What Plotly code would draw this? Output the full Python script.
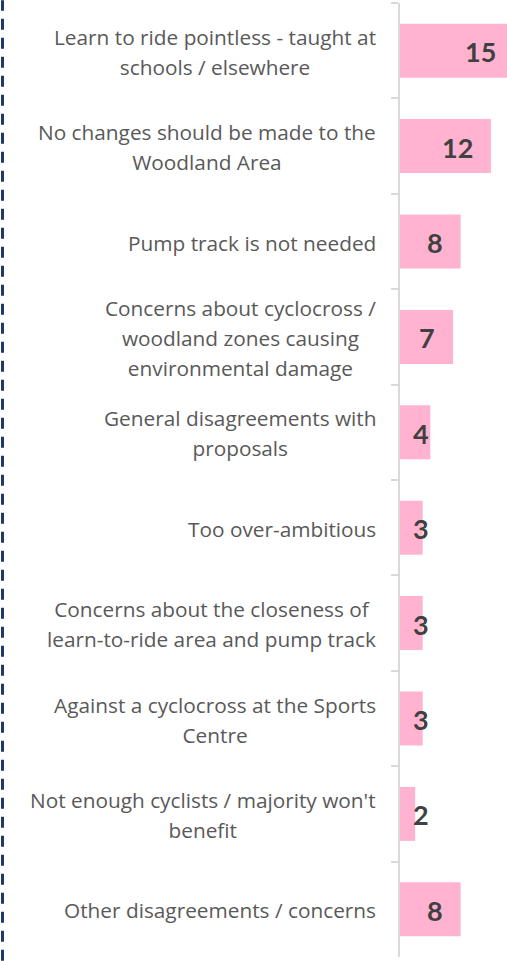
import plotly.graph_objects as go

categories = [
    "Learn to ride pointless - taught at<br>schools / elsewhere",
    "No changes should be made to the<br>Woodland Area",
    "Pump track is not needed",
    "Concerns about cyclocross /<br>woodland zones causing<br>environmental damage",
    "General disagreements with<br>proposals",
    "Too over-ambitious",
    "Concerns about the closeness of<br>learn-to-ride area and pump track",
    "Against a cyclocross at the Sports<br>Centre",
    "Not enough cyclists / majority won't<br>benefit",
    "Other disagreements / concerns",
]
values = [15, 12, 8, 7, 4, 3, 3, 3, 2, 8]

XMAX = 14.12
LABEL_MIN = 6.2

fig = go.Figure()
fig.add_trace(go.Bar(
    y=categories, x=values, orientation="h",
    marker=dict(color="#FFB3D0", line=dict(width=0)),
    hoverinfo="skip",
))

annotations = []
for cat, v in zip(categories, values):
    lines = cat.split("<br>")
    txt = "<br>".join('<span style="font-size:20.8px">%s</span>' % ln for ln in lines)
    annotations.append(dict(
        x=0, xref="paper", y=cat, yref="y", xanchor="right", yanchor="middle",
        xshift=-22, yshift=-1, text=txt, showarrow=False, align="center",
        font=dict(family="Open Sans, sans-serif", size=23, color="#595959"),
    ))
    annotations.append(dict(
        x=max(v, LABEL_MIN) / XMAX, xref="paper", y=cat, yref="y",
        xanchor="right", yanchor="middle", xshift=-16, yshift=-1,
        text="<b>%d</b>" % v, showarrow=False,
        font=dict(family="Lato, sans-serif", size=27, color="#404040"),
    ))

fig.update_layout(
    width=507, height=961, autosize=False,
    margin=dict(l=400, r=0, t=3, b=4),
    paper_bgcolor="white", plot_bgcolor="white",
    bargap=0.434,
    showlegend=False,
    annotations=annotations,
    shapes=[dict(
        type="line", xref="paper", yref="paper",
        x0=(2.5 - 400) / 107, x1=(2.5 - 400) / 107, y0=-0.004, y1=1.003,
        line=dict(color="#1F3864", width=3, dash="11px,8px"),
    )],
    xaxis=dict(range=[0, XMAX], visible=False, fixedrange=True),
    yaxis=dict(
        autorange="reversed", showline=True, linecolor="#D9D9D9", linewidth=2,
        ticks="outside", tickson="boundaries", ticklen=7, tickcolor="#D9D9D9",
        tickwidth=2, showticklabels=False, showgrid=False, zeroline=False,
    ),
)

fig.write_html(
    "out.html",
    config={"responsive": False, "displayModeBar": False},
    post_script="document.body.style.margin='0';document.body.style.overflow='hidden';",
)
